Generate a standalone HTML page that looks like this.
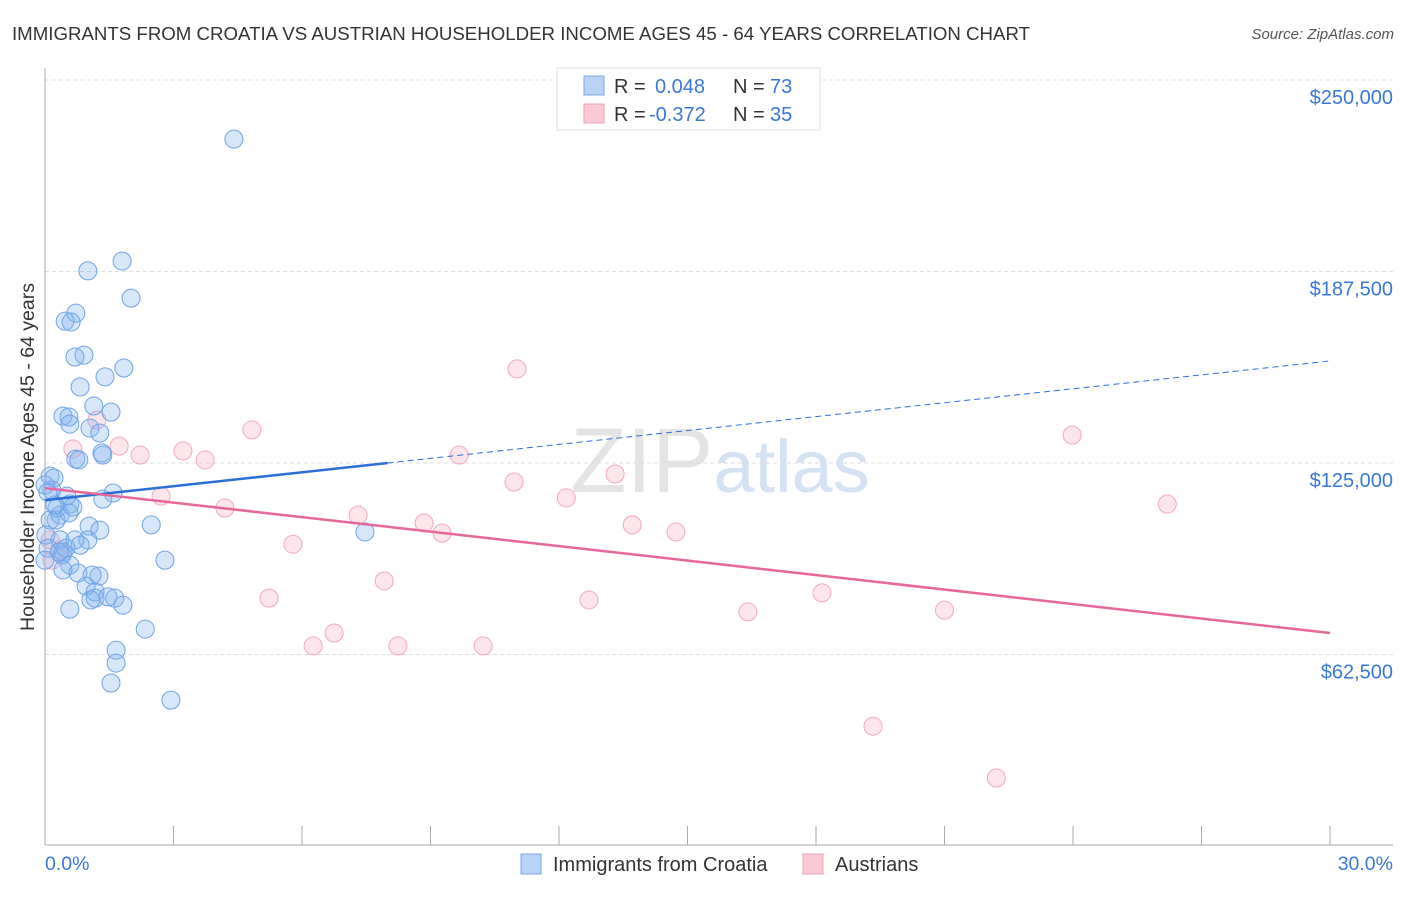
<!DOCTYPE html>
<html><head><meta charset="utf-8"><style>
body{margin:0;background:#fff;font-family:"Liberation Sans",sans-serif;}
svg text{font-family:"Liberation Sans",sans-serif;}
</style></head><body>
<svg id="chart" width="1406" height="892" xmlns="http://www.w3.org/2000/svg">
<text x="12" y="40" font-size="18" fill="#333" textLength="1018" lengthAdjust="spacingAndGlyphs">IMMIGRANTS FROM CROATIA VS AUSTRIAN HOUSEHOLDER INCOME AGES 45 - 64 YEARS CORRELATION CHART</text>
<text x="1394" y="39" font-size="15" fill="#555" text-anchor="end" font-style="italic">Source: ZipAtlas.com</text>
<text x="720" y="492" font-size="92" fill="#e4e4e4" text-anchor="middle" font-family="Liberation Serif">ZIP<tspan fill="#d4e2f3" font-family="Liberation Sans" font-size="74">atlas</tspan></text>
<g id="grid"></g><g id="axes"></g><g id="pts"></g><g id="lines"></g>
<text transform="translate(34,457) rotate(-90)" font-size="19.5" fill="#333" text-anchor="middle">Householder Income Ages 45 - 64 years</text>
<text x="45" y="870" font-size="19.5" fill="#3a78d8">0.0%</text>
<text x="1393" y="870" font-size="19.5" fill="#3a78d8" text-anchor="end">30.0%</text>
<g>
<rect x="557" y="68" width="263" height="62" fill="#fff" stroke="#ddd"/>
<rect x="584" y="76" width="20" height="19" fill="#b8d3f5" stroke="#7aa8e8"/>
<rect x="584" y="104" width="20" height="19" fill="#fbc8d6" stroke="#f0a0b8"/>
<text x="614" y="93" font-size="20" fill="#333">R =</text>
<text x="655" y="93" font-size="20" fill="#3a78d8">0.048</text>
<text x="733" y="93" font-size="20" fill="#333">N =</text>
<text x="770" y="93" font-size="20" fill="#3a78d8">73</text>
<text x="614" y="121" font-size="20" fill="#333">R =</text>
<text x="649" y="121" font-size="20" fill="#3a78d8">-0.372</text>
<text x="733" y="121" font-size="20" fill="#333">N =</text>
<text x="770" y="121" font-size="20" fill="#3a78d8">35</text>
</g>
<g>
<rect x="521" y="854" width="20" height="20" fill="#b8d3f5" stroke="#7aa8e8"/>
<text x="553" y="871" font-size="20" fill="#333">Immigrants from Croatia</text>
<rect x="803" y="854" width="20" height="20" fill="#fbc8d6" stroke="#f0a0b8"/>
<text x="835" y="871" font-size="20" fill="#333">Austrians</text>
</g>
</svg>
<script>
const yTicks=[62500,125000,187500,250000];
const yTickLabels=["$62,500","$125,000","$187,500","$250,000"];
const blueX=[4.41,1.80,1.00,2.01,0.72,0.47,0.61,0.91,0.70,1.84,1.40,0.82,1.14,1.54,0.42,0.56,0.58,1.05,1.28,0.72,0.79,1.33,1.35,0.12,0.21,0.16,1.59,0.07,1.35,0.58,0.65,0.28,0.35,0.26,0.56,1.03,2.48,7.47,0.35,1.00,0.42,0.40,2.80,0.58,0.42,0.77,1.10,1.26,0.96,1.17,1.17,1.07,1.47,1.63,1.82,0.58,2.34,1.66,1.66,1.54,2.94,0.02,0.07,0.23,0.51,0.00,0.00,0.12,0.70,0.82,0.49,0.33,1.28];
const blueY=[230.7,190.9,187.7,178.8,173.9,171.3,171.0,160.2,159.6,156.0,153.1,149.8,143.6,141.6,140.3,140.0,137.7,136.4,134.8,126.3,126.0,128.3,127.6,120.7,120.1,116.2,115.2,115.5,113.2,111.6,110.6,110.3,108.0,106.4,108.7,104.4,104.8,102.5,99.9,99.9,95.9,95.0,93.3,91.7,90.1,89.1,88.4,88.1,84.8,82.9,80.9,80.3,81.3,80.9,78.6,77.3,70.8,63.9,59.7,53.2,47.6,101.5,97.2,111.3,114.2,93.3,117.8,106.4,99.9,98.2,97.2,95.9,103.1];
const pinkX=[1.21,0.65,1.73,2.22,3.22,3.74,4.83,4.20,2.71,5.79,5.23,6.75,6.26,7.31,7.92,8.24,8.85,9.27,9.67,10.23,10.95,11.02,12.17,12.70,13.31,13.71,14.73,16.41,18.14,19.33,21.00,22.21,23.98,26.20,0.12,0.35,0.16];
const pinkY=[139.0,129.6,130.5,127.6,128.9,126.0,135.8,110.3,114.2,98.5,80.9,69.5,65.3,108.0,86.5,65.3,105.4,102.1,127.6,65.3,118.8,155.7,113.6,80.3,121.4,104.8,102.5,76.4,82.6,39.1,77.0,22.2,134.1,111.6,99.9,96.6,93.3];
const blueTrend=[112.9,158.3];
const pinkTrend=[116.8,69.5];
const NS="http://www.w3.org/2000/svg";
const sx=v=>45+v/30*1285;
const sy=k=>80+(250-k)/62.5*191.5;
function mk(tag,at,parent){const e=document.createElementNS(NS,tag);for(const k in at)e.setAttribute(k,at[k]);document.getElementById(parent).appendChild(e);return e;}
yTicks.forEach((t,i)=>{
 const y=sy(t/1000);
 const g=mk('line',{x1:45,x2:1393,y1:y,y2:y,stroke:'#ddd','stroke-dasharray':'4,3'},'grid');
 
 
 const tx=mk('text',{x:1393,y:y+24,'font-size':20,fill:'#3a78d8','text-anchor':'end'},'grid');
 tx.textContent=yTickLabels[i];
 
 
});
const ya=mk('line',{x1:45,x2:45,y1:68,y2:845,stroke:'#aaa'},'axes');


const xa=mk('line',{x1:45,x2:1393,y1:845,y2:845,stroke:'#aaa'},'axes');


for(let i=0;i<=10;i++){
 const x=sx(i*3);
 const t=mk('line',{x1:x,x2:x,y1:826,y2:845,stroke:'#aaa'},'axes');
 
 
}
pinkX.forEach((v,i)=>{
 const c=mk('circle',{cx:sx(v),cy:sy(pinkY[i]),r:9,fill:'rgba(248,180,200,0.35)',stroke:'#f2a8c0','stroke-width':1},'pts');
 
 
});
blueX.forEach((v,i)=>{
 const c=mk('circle',{cx:sx(v),cy:sy(blueY[i]),r:9,fill:'rgba(130,180,240,0.32)',stroke:'#6fa3e6','stroke-width':1},'pts');
 
 
});
const bAt=x=>blueTrend[0]+(blueTrend[1]-blueTrend[0])*x/30;
const b1=mk('line',{x1:sx(0),y1:sy(bAt(0)),x2:sx(8),y2:sy(bAt(8)),stroke:'#2a6fd8','stroke-width':2.5},'lines');


const b2=mk('line',{x1:sx(8),y1:sy(bAt(8)),x2:sx(30),y2:sy(bAt(30)),stroke:'#2a6fd8','stroke-width':1,'stroke-dasharray':'6,4'},'lines');


const p1=mk('line',{x1:sx(0),y1:sy(pinkTrend[0]),x2:sx(30),y2:sy(pinkTrend[1]),stroke:'#e8679a','stroke-width':2.5},'lines');


</script>
</body></html>
